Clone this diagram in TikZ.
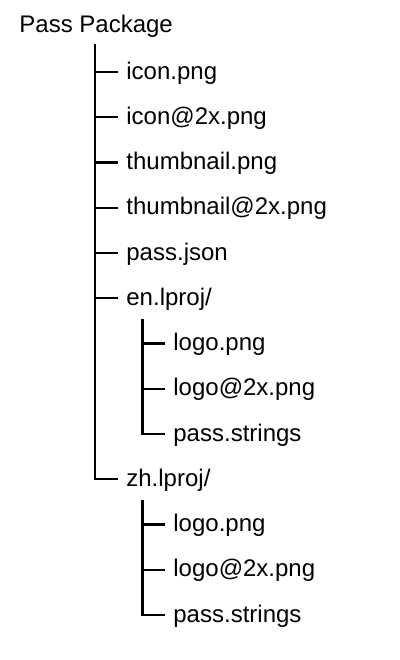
\documentclass[tikz,border=0pt]{standalone}
\usepackage{fontspec}
\setmainfont{Liberation Sans}
\begin{document}
\begin{tikzpicture}[x=0.5pt,y=-0.5pt]
\tikzset{entry/.style={anchor=west,inner xsep=4pt,inner ysep=0pt,
  text height=9pt,text depth=2pt,font=\fontsize{12}{14}\selectfont}}
\tikzset{branch/.style={line width=1.1pt}}
\pgfmathsetmacro{\dy}{45.25}   %row spacing
\useasboundingbox (0,0) rectangle (400,660);
%root
\node[entry] (root) at (11,25.7) {Pass Package};
%first level
\foreach \nm/\txt/\row in {icon/icon.png/0,icon2x/icon@2x.png/1,
  thumb/thumbnail.png/2,thumb2x/thumbnail@2x.png/3,json/pass.json/4,
  en/{en.lproj/}/5,zh/{zh.lproj/}/9}
  \node[entry] (\nm) at (118,{72+\row*\dy}) {\txt};
%second level
\foreach \dir/\row in {en/6,zh/10}{
\node[entry] (\dir-logo) at (165,{72+\row*\dy}) {logo.png};
\node[entry] (\dir-logo2x) at (165,{72+(\row+1)*\dy}) {logo@2x.png};
\node[entry] (\dir-strings) at (165,{72+(\row+2)*\dy}) {pass.strings};}
%trunk of the package
\coordinate (top) at (95,44);
\draw[branch] (top) |- (zh.west);
\foreach \nm in {icon,icon2x,thumb,thumb2x,json,en}
  \draw[branch] (top |- \nm.west) -- (\nm.west);
%trunks of the folders
\foreach \dir in {en,zh}{
\coordinate (\dir-top) at ([shift={(24.5,21)}]\dir.west);
\draw[branch] (\dir-top) |- (\dir-strings.west);
\foreach \nm in {logo,logo2x}
  \draw[branch] (\dir-top |- \dir-\nm.west) -- (\dir-\nm.west);}
\end{tikzpicture}
\end{document}
